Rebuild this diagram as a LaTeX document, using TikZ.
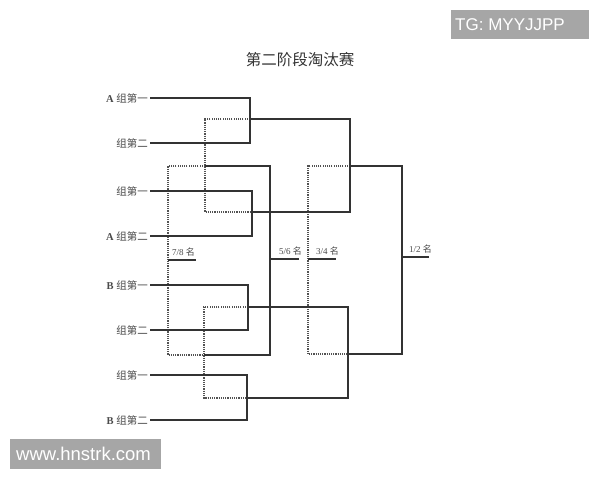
\documentclass[tikz,border=0pt]{standalone}
\usepackage{fontspec}
\setmainfont{Liberation Serif}
\newfontfamily\cjk{Noto Sans CJK SC}
\newfontfamily\wmfont{Liberation Sans}
\definecolor{ink}{HTML}{333333}
\definecolor{txt}{HTML}{4A4A4A}
\definecolor{wmgray}{HTML}{A6A6A6}
\tikzset{
  win/.style={draw=ink, line width=1.4pt},
  lose/.style={draw=ink!85, line width=1.1pt, dash pattern=on 1.1pt off 1.1pt},
  entlabel/.style={anchor=east, inner sep=0pt, text=txt, font=\fontsize{10.5}{12}\selectfont},
  placelabel/.style={anchor=south west, inner sep=0pt, text=txt, font=\fontsize{9}{10}\selectfont},
  wmtext/.style={anchor=west, text=white, inner sep=0pt}
}
\begin{document}
\begin{tikzpicture}[x=1pt, y=-1pt]
\useasboundingbox (0,0) rectangle (600,480);
\fill[white] (0,0) rectangle (600,480);

% title
\node[text=ink, font=\cjk\fontsize{15.5}{17}\selectfont] (title) at (300,60) {第二阶段淘汰赛};

% entrant labels
\node[entlabel] (l1) at (148,98)  {\textbf{A} \cjk 组第一};
\node[entlabel] (l2) at (148,143) {\cjk 组第二};
\node[entlabel] (l3) at (148,191) {\cjk 组第一};
\node[entlabel] (l4) at (148,236) {\textbf{A} \cjk 组第二};
\node[entlabel] (l5) at (148,285) {\textbf{B} \cjk 组第一};
\node[entlabel] (l6) at (148,330) {\cjk 组第二};
\node[entlabel] (l7) at (148,375) {\cjk 组第一};
\node[entlabel] (l8) at (148,420) {\textbf{B} \cjk 组第二};

% coordinates
\coordinate (e1) at (150,98);  \coordinate (a1) at (250,98);
\coordinate (e2) at (150,143); \coordinate (a2) at (250,143);
\coordinate (e3) at (150,191); \coordinate (a3) at (252,191);
\coordinate (e4) at (150,236); \coordinate (a4) at (252,236);
\coordinate (e5) at (150,285); \coordinate (a5) at (248,285);
\coordinate (e6) at (150,330); \coordinate (a6) at (248,330);
\coordinate (e7) at (150,375); \coordinate (a7) at (247,375);
\coordinate (e8) at (150,420); \coordinate (a8) at (247,420);

\coordinate (w1) at (250,119); \coordinate (s1t) at (350,119);
\coordinate (w2) at (252,212); \coordinate (s1b) at (350,212);
\coordinate (w3) at (248,307); \coordinate (s2t) at (348,307);
\coordinate (w4) at (247,398); \coordinate (s2b) at (348,398);

\coordinate (s1o) at (350,166); \coordinate (ft) at (402,166);
\coordinate (s2o) at (348,354); \coordinate (fb) at (402,354);
\coordinate (fm) at (402,257); \coordinate (f12) at (429,257);

% loser brackets (A / B)
\coordinate (la1) at (205,119); \coordinate (la2) at (205,212);
\coordinate (lb1) at (204,307); \coordinate (lb2) at (204,398);
\coordinate (la) at (205,166);  \coordinate (lb) at (204,355);
\coordinate (p5t) at (270,166); \coordinate (p5b) at (270,355);
\coordinate (p5m) at (270,259); \coordinate (p56) at (299,259);
\coordinate (p7t) at (168,166); \coordinate (p7b) at (168,355);
\coordinate (p7m) at (168,260); \coordinate (p78) at (196,260);
\coordinate (p3t) at (308,166); \coordinate (p3b) at (308,354);
\coordinate (p3m) at (308,259); \coordinate (p34) at (336,259);

% dotted loser paths
\draw[lose] (w1) -- (la1) -- (la2) -- (w2);
\draw[lose] (w3) -- (lb1) -- (lb2) -- (w4);
\draw[lose] (la) -- (p7t) -- (p7b) -- (lb);
\draw[lose] (s1o) -- (p3t) -- (p3b) -- (s2o);

% first round
\draw[win] (e1) -- (a1) -- (a2) -- (e2);
\draw[win] (e3) -- (a3) -- (a4) -- (e4);
\draw[win] (e5) -- (a5) -- (a6) -- (e6);
\draw[win] (e7) -- (a7) -- (a8) -- (e8);
\draw[win] (w1) -- (s1t) -- (s1b) -- (w2);
\draw[win] (w3) -- (s2t) -- (s2b) -- (w4);
\draw[win] (s1o) -- (ft) -- (fb) -- (s2o);
\draw[win] (fm) -- (f12);

% 5-8 bracket
\draw[win] (la) -- (p5t) -- (p5b) -- (lb);
\draw[win] (p5m) -- (p56);
\draw[win] (p7m) -- (p78);
\draw[win] (p3m) -- (p34);

% place labels
\node[placelabel] (t78) at (172,256) {7/8 {\cjk 名}};
\node[placelabel] (t56) at (279,255) {5/6 {\cjk 名}};
\node[placelabel] (t34) at (316,255) {3/4 {\cjk 名}};
\node[placelabel] (t12) at (409,253) {1/2 {\cjk 名}};

% watermarks
\fill[wmgray] (451,10) rectangle (589,39);
\node[wmtext, font=\wmfont\fontsize{17}{19}\selectfont] (wm1) at (455,24.5) {TG: MYYJJPP};
\fill[wmgray] (10,439) rectangle (161,469);
\node[wmtext, font=\wmfont\fontsize{18.5}{20}\selectfont] (wm2) at (16,454) {www.hnstrk.com};
\end{tikzpicture}
\end{document}
